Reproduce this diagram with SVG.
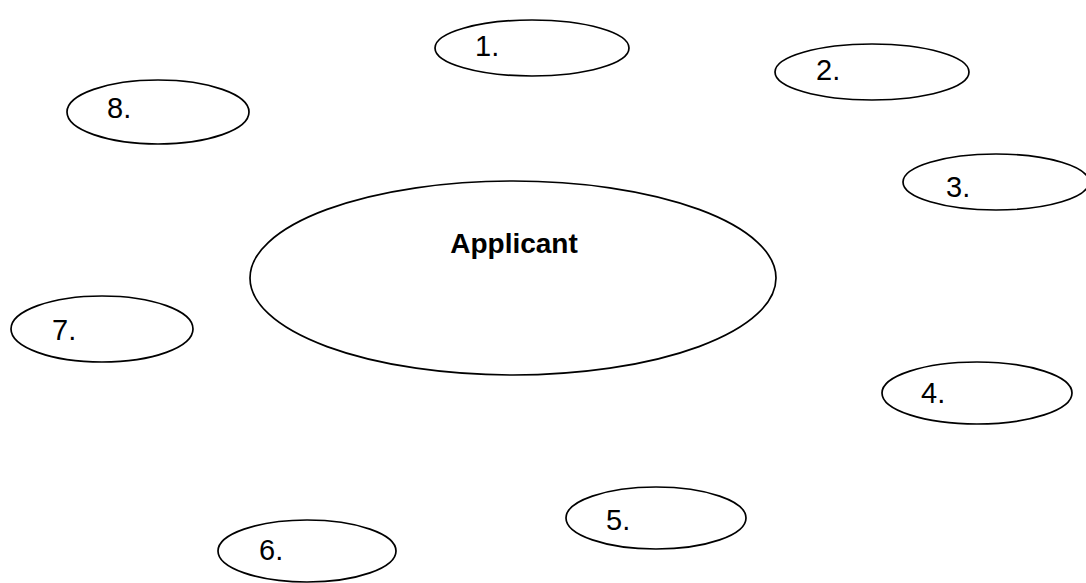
<svg xmlns="http://www.w3.org/2000/svg" width="1086" height="583" viewBox="0 0 1086 583">
<style>
.e{fill:#fff;stroke:#000;stroke-width:1.7}
.n{font-family:"Liberation Sans",Arial,sans-serif;font-size:29px;fill:#000}
.b{font-family:"Liberation Sans",Arial,sans-serif;font-size:28px;font-weight:bold;fill:#000}
</style>
<rect width="1086" height="583" fill="#fff"/>
<g id="connectors"></g>
<g id="applicant"><ellipse class="e" cx="513" cy="278" rx="263" ry="97"/><text class="b" x="514" y="253" text-anchor="middle">Applicant</text></g>
<g id="n1"><ellipse class="e" cx="532" cy="48" rx="97" ry="28"/><text class="n" x="475" y="56">1.</text></g>
<g id="n2"><ellipse class="e" cx="872" cy="72" rx="97" ry="28"/><text class="n" x="816" y="80">2.</text></g>
<g id="n3"><ellipse class="e" cx="996" cy="182" rx="93" ry="28"/><text class="n" x="946" y="197">3.</text></g>
<g id="n4"><ellipse class="e" cx="977" cy="393" rx="95" ry="31"/><text class="n" x="921" y="403">4.</text></g>
<g id="n5"><ellipse class="e" cx="656" cy="518" rx="90" ry="31"/><text class="n" x="606" y="530">5.</text></g>
<g id="n6"><ellipse class="e" cx="307" cy="551" rx="89" ry="31"/><text class="n" x="259" y="560">6.</text></g>
<g id="n7"><ellipse class="e" cx="102" cy="329" rx="91" ry="33"/><text class="n" x="52" y="340">7.</text></g>
<g id="n8"><ellipse class="e" cx="158" cy="112" rx="91" ry="32"/><text class="n" x="107" y="118">8.</text></g>
</svg>
